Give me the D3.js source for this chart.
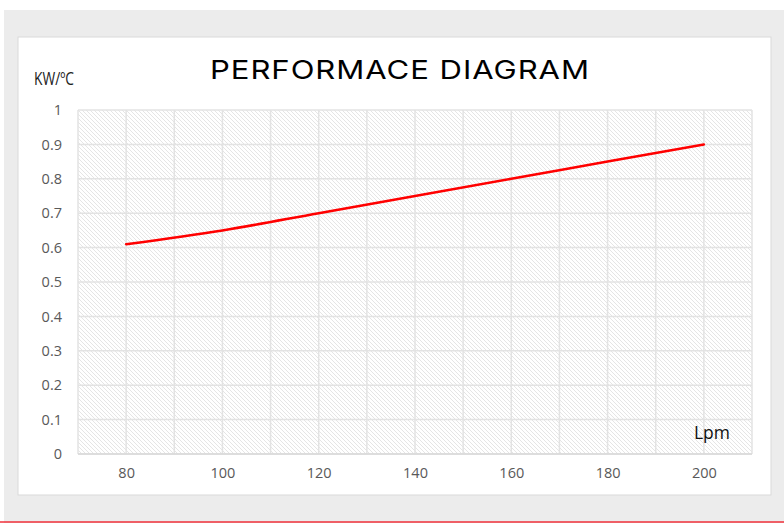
<!DOCTYPE html>
<html><head><meta charset="utf-8">
<script src="https://cdn.jsdelivr.net/npm/d3@7/dist/d3.min.js"></script>
<style>html,body{margin:0;padding:0;background:#fff;}svg{display:block;}</style>
</head><body>
<script>
const flowLpm = [80, 100, 120, 140, 160, 180, 200];
const performance = [0.61, 0.65, 0.70, 0.75, 0.80, 0.85, 0.90];
const xTicks = [80, 100, 120, 140, 160, 180, 200];
const yTicks = [0, 0.1, 0.2, 0.3, 0.4, 0.5, 0.6, 0.7, 0.8, 0.9, 1];
const xGrid = d3.range(70, 211, 10);
const titleText = "PERFORMACE DIAGRAM";
const yUnit = "KW/ºC";
const xUnit = "Lpm";

const W = 784, H = 523;
const svg = d3.select("body").append("svg").attr("width", W).attr("height", H);

// page backgrounds
svg.append("rect").attr("x", 4).attr("y", 10).attr("width", W - 4).attr("height", H - 10).attr("fill", "#ececec");
svg.append("rect").attr("x", 18).attr("y", 37).attr("width", 753).attr("height", 458)
  .attr("fill", "#fff").attr("stroke", "#d9d9d9").attr("stroke-width", 1);
svg.append("line").attr("x1", 0).attr("x2", W).attr("y1", 522).attr("y2", 522)
  .attr("stroke", "#f0303a").attr("stroke-width", 1.5);

const L = 78, R = 752, T = 110, B = 454;
const x = d3.scaleLinear().domain([70, 210]).range([L, R]);
const y = d3.scaleLinear().domain([0, 1]).range([B, T]);

const defs = svg.append("defs");
const pat = defs.append("pattern").attr("id", "hatch").attr("patternUnits", "userSpaceOnUse")
  .attr("width", 4).attr("height", 4);
pat.append("rect").attr("width", 4).attr("height", 4).attr("fill", "#fff");
pat.append("path").attr("d", "M-1,-1 L5,5 M-1,3 L1,5 M3,-1 L5,1").attr("stroke", "#e2e2e2").attr("stroke-width", 0.9);

svg.append("rect").attr("x", L).attr("y", T).attr("width", R - L).attr("height", B - T).attr("fill", "url(#hatch)");

// gridlines
svg.append("g").selectAll("line").data(yTicks).join("line")
  .attr("x1", L).attr("x2", R).attr("y1", d => y(d)).attr("y2", d => y(d))
  .attr("stroke", "#e3e3e3").attr("stroke-width", 1.5);
svg.append("g").selectAll("line").data(xGrid).join("line")
  .attr("y1", T).attr("y2", B).attr("x1", d => x(d)).attr("x2", d => x(d))
  .attr("stroke", "#e3e3e3").attr("stroke-width", 1.5);
svg.append("line").attr("x1", L).attr("x2", R).attr("y1", B).attr("y2", B)
  .attr("stroke", "#d9d9d9").attr("stroke-width", 1.5);

// axes labels
const font = "'Open Sans', 'Liberation Sans', sans-serif";
const yAxis = d3.axisLeft(y).tickValues(yTicks).tickSize(0).tickPadding(16).tickFormat(d => d3.format("")(+d.toFixed(1)));
const gy = svg.append("g").attr("transform", `translate(${L},0)`).call(yAxis);
gy.select(".domain").remove();
gy.selectAll("text").attr("fill", "#595959").attr("font-size", 14.5).attr("font-family", font);

const xAxis = d3.axisBottom(x).tickValues(xTicks).tickSize(0).tickPadding(14);
const gx = svg.append("g").attr("transform", `translate(0,${B})`).call(xAxis);
gx.select(".domain").remove();
gx.selectAll("text").attr("fill", "#595959").attr("font-size", 14.5).attr("font-family", font);

// line
const line = d3.line().x((d, i) => x(flowLpm[i])).y(d => y(d)).curve(d3.curveMonotoneX);
svg.append("path").datum(performance).attr("d", line).attr("fill", "none")
  .attr("stroke", "#ff0000").attr("stroke-width", 2.5).attr("stroke-linecap", "round");

// texts
svg.append("text").attr("x", 210).attr("y", 79)
  .attr("font-family", "Inter, 'Open Sans', sans-serif").attr("font-weight", 400)
  .attr("font-size", 26).attr("letter-spacing", 0.8).attr("textLength", 380).attr("lengthAdjust", "spacingAndGlyphs")
  .attr("fill", "#000").text(titleText);
svg.append("text").attr("x", 34).attr("y", 85).attr("font-family", font)
  .attr("font-size", 17.5).attr("textLength", 40).attr("lengthAdjust", "spacingAndGlyphs")
  .attr("fill", "#222").text(yUnit);
svg.append("text").attr("x", 694).attr("y", 439).attr("font-family", font)
  .attr("font-size", 18.5).attr("textLength", 36).attr("lengthAdjust", "spacingAndGlyphs")
  .attr("fill", "#111").text(xUnit);
</script>
</body></html>
